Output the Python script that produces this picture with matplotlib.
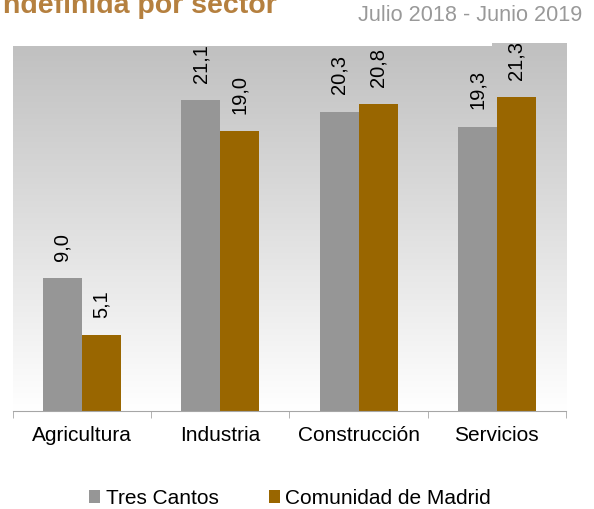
import matplotlib
matplotlib.use('Agg')
import matplotlib.pyplot as plt
import numpy as np
from matplotlib.colors import LinearSegmentedColormap
from matplotlib.patches import Rectangle

plt.rcParams['font.family'] = ['Liberation Sans', 'DejaVu Sans']

# data
sectores = ['Agricultura', 'Industria', 'Construcción', 'Servicios']
tres_cantos = [9.0, 21.1, 20.3, 19.3]
madrid = [5.1, 19.0, 20.8, 21.3]
series_names = ['Tres Cantos', 'Comunidad de Madrid']

c_grey = '#969696'
c_brown = '#996600'

fig = plt.figure(figsize=(5.94, 5.09), dpi=100)
ax = fig.add_axes([12.7 / 594, 1 - 410.5 / 509, (566 - 12.7) / 594, (410.5 - 42.7) / 509])

# gradient background
cmap = LinearSegmentedColormap.from_list('bg', ['#ffffff', '#c0c0c0'])
grad = np.linspace(0, 1, 256).reshape(-1, 1)
ax.imshow(grad, cmap=cmap, aspect='auto', extent=[0, 1, 0, 1], origin='lower',
          transform=ax.transAxes, zorder=0)
# white box of the subtitle overlapping the top of the plot area
ax.add_patch(Rectangle((0, 1 - 3.2 / 367.8), (492 - 12.7) / 553.3, 0.02,
                       transform=ax.transAxes, facecolor='white', edgecolor='none',
                       zorder=0.5, clip_on=False))

x = np.arange(len(sectores))
w = 0.282
b1 = ax.bar(x - w / 2, tres_cantos, w, color=c_grey, label=series_names[0], zorder=2)
b2 = ax.bar(x + w / 2, madrid, w, color=c_brown, label=series_names[1], zorder=2)

for bars, vals in [(b1, tres_cantos), (b2, madrid)]:
    for r, v in zip(bars, vals):
        ax.annotate(f'{v:.1f}'.replace('.', ','), (r.get_x() + r.get_width() / 2, v),
                    xytext=(0, 12.5), textcoords='offset points', rotation=90,
                    ha='center', va='bottom', fontsize=14.5, zorder=3)

ax.set_xlim(-0.5, 3.5)
ax.set_ylim(0, 25)
for s in ['left', 'right', 'top']:
    ax.spines[s].set_visible(False)
ax.spines['bottom'].set_color('#a6a6a6')
ax.set_yticks([])
ax.set_xticks(x)
ax.set_xticklabels(sectores, fontsize=15)
ax.tick_params(axis='x', which='major', length=0, pad=11)
ax.set_xticks(np.arange(-0.5, 4, 1), minor=True)
ax.tick_params(axis='x', which='minor', length=5, color='#a6a6a6', direction='out')

fig.legend(loc='center', bbox_to_anchor=(290 / 594, 1 - 498.5 / 509), ncol=2,
           frameon=False, fontsize=15, handlelength=0.53, handleheight=0.53,
           handletextpad=0.25, columnspacing=2.4, borderpad=0)

fig.text(277 / 594, 1 - 13 / 509, 'ndefinida por sector', ha='right', va='baseline',
         fontsize=20.5, fontweight='bold', color='#B5803F')
fig.text(582 / 594, 1 - 20.7 / 509, 'Julio 2018 - Junio 2019', ha='right', va='baseline',
         fontsize=15.6, color='#999999')

fig.savefig('out.png', dpi=100)
